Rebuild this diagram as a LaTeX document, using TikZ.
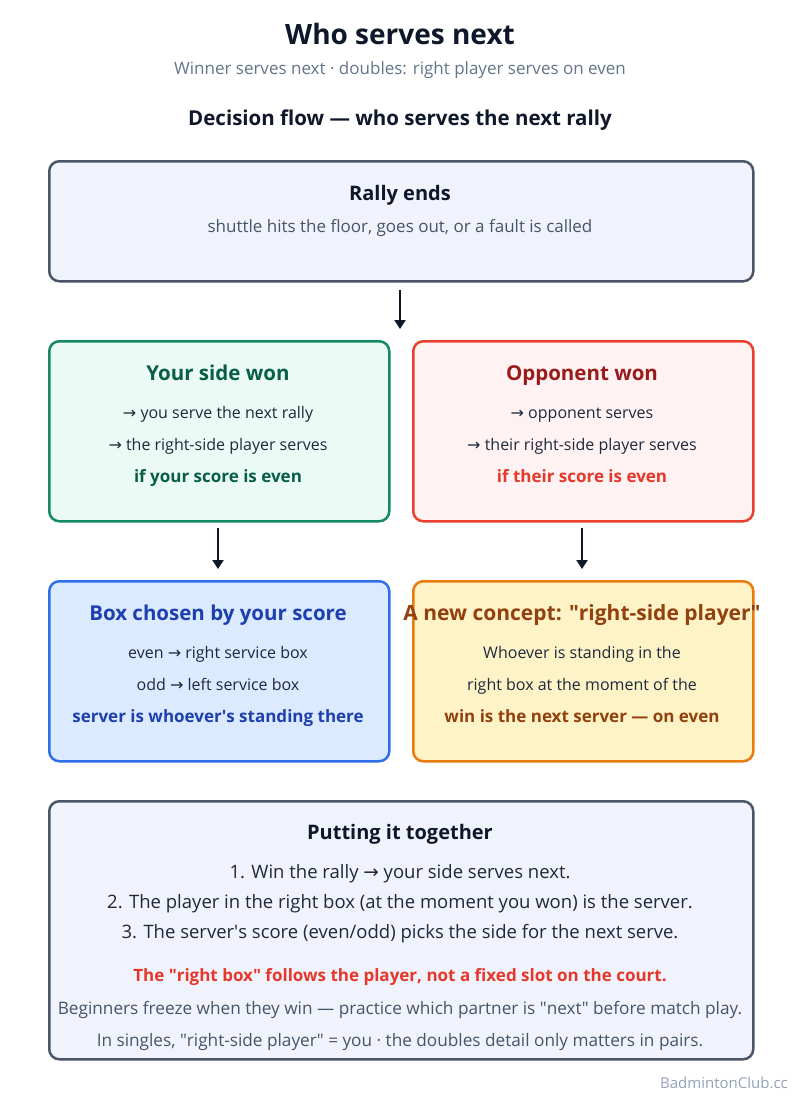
\documentclass[tikz,border=0pt]{standalone}
\usepackage{fontspec}
\setmainfont{Open Sans}
\newfontfamily\oq{Open Sans}
\newfontfamily\symf{DejaVu Sans}
\usetikzlibrary{arrows.meta}
\definecolor{ink}{HTML}{0F172A}
\definecolor{body}{HTML}{1E293B}
\definecolor{muted}{HTML}{64748B}
\definecolor{muted2}{HTML}{475569}
\definecolor{slatefill}{HTML}{F0F3FB}
\definecolor{slatestroke}{HTML}{4A5568}
\definecolor{gfill}{HTML}{ECFAF5}
\definecolor{gstroke}{HTML}{138A64}
\definecolor{gtext}{HTML}{065F46}
\definecolor{rfill}{HTML}{FEF2F2}
\definecolor{rstroke}{HTML}{EA4030}
\definecolor{rtitle}{HTML}{991B1B}
\definecolor{rtext}{HTML}{E5372A}
\definecolor{bfill}{HTML}{DBEAFE}
\definecolor{bstroke}{HTML}{2F6FE8}
\definecolor{btext}{HTML}{1E40AF}
\definecolor{ofill}{HTML}{FEF3C7}
\definecolor{ostroke}{HTML}{EA7A0C}
\definecolor{otext}{HTML}{92400E}
\definecolor{brand}{HTML}{94A3B8}
\newcommand{\ar}{{\symf\char"2192}}
\newcommand{\dq}{{\oq\char"22\relax}}
\newcommand{\sq}{{\oq\char"27\relax}}
\newcommand{\fs}[1]{\fontsize{#1}{#1}\selectfont}
\begin{document}
\begin{tikzpicture}[x=1pt,y=-1pt,
  card/.style={draw=#1stroke, fill=#1fill, line width=2.5pt, rounded corners=10pt, inner sep=0pt, anchor=north west},
  txt/.style={anchor=base, inner sep=0pt, font=\fs{16}, text=body},
  bold/.style={anchor=base, inner sep=0pt, font=\fs{17}\bfseries},
  hd/.style={anchor=base, inner sep=0pt, font=\fs{20.5}\bfseries},
  conn/.style={draw=ink, line width=2pt, -{Triangle[length=9pt,width=11pt]}}]
\useasboundingbox[fill=white] (0,0) rectangle (800,1100);
% titles
\node[anchor=base, inner sep=0pt, font=\fs{28}\bfseries, text=ink] (title) at (400,44) {Who serves next};
\node[txt, font=\fs{17}, text=muted] (sub) at (400,74) {Winner serves next · doubles: right player serves on even};
\node[hd, text=ink] (flow) at (400,125) {Decision flow — who serves the next rally};
% boxes
\node[card=slate, minimum width=704pt, minimum height=120pt] (rally) at (48,160) {};
\node[card=g, minimum width=340pt, minimum height=180pt] (won) at (48,340) {};
\node[card=r, minimum width=340pt, minimum height=180pt] (lost) at (412,340) {};
\node[card=b, minimum width=340pt, minimum height=180pt] (boxsel) at (48,580) {};
\node[card=o, minimum width=340pt, minimum height=180pt] (concept) at (412,580) {};
\node[card=slate, minimum width=704pt, minimum height=258pt] (sum) at (48,800) {};
% connectors
\coordinate (a1) at (400,290); \coordinate (a2) at (400,329);
\draw[conn] (a1) -- (a2);
\coordinate (b1) at (218,528); \coordinate (b2) at (218,569);
\draw[conn] (b1) -- (b2);
\coordinate (c1) at (582,528); \coordinate (c2) at (582,569);
\draw[conn] (c1) -- (c2);
% rally
\node[hd, font=\fs{20}\bfseries, text=ink] (t1) at (400,200) {Rally ends};
\node[txt, font=\fs{17}, text=muted2] (t2) at (400,232) {shuttle hits the floor, goes out, or a fault is called};
% won
\node[hd, text=gtext] (w1) at (218,380) {Your side won};
\node[txt] (w2) at (218,418) {\ar{} you serve the next rally};
\node[txt] (w3) at (218,450) {\ar{} the right-side player serves};
\node[bold, text=gtext] (w4) at (218,482) {if your score is even};
% lost
\node[hd, text=rtitle] (l1) at (582,380) {Opponent won};
\node[txt] (l2) at (582,418) {\ar{} opponent serves};
\node[txt] (l3) at (582,450) {\ar{} their right-side player serves};
\node[bold, text=rtext] (l4) at (582,482) {if their score is even};
% box chosen
\node[hd, text=btext] (s1) at (218,620) {Box chosen by your score};
\node[txt] (s2) at (218,658) {even \ar{} right service box};
\node[txt] (s3) at (218,690) {odd \ar{} left service box};
\node[bold, text=btext] (s4) at (218,722) {server is whoever\sq s standing there};
% concept
\node[hd, font=\fs{21}\bfseries, text=otext] (c1t) at (582,620) {A new concept: \dq right-side player\dq};
\node[txt] (c2t) at (582,658) {Whoever is standing in the};
\node[txt] (c3t) at (582,690) {right box at the moment of the};
\node[bold, text=otext] (c4t) at (582,722) {win is the next server — on even};
% summary
\node[hd, font=\fs{20}\bfseries, text=ink] (p1) at (400,839) {Putting it together};
\node[txt, font=\fs{18.5}] (p2) at (400,878) {1. Win the rally \ar{} your side serves next.};
\node[txt, font=\fs{18.5}] (p3) at (400,908) {2. The player in the right box (at the moment you won) is the server.};
\node[txt, font=\fs{18.5}] (p4) at (400,938) {3. The server\sq s score (even/odd) picks the side for the next serve.};
\node[txt, font=\fs{17}\bfseries, text=rtext] (p5) at (400,981) {The \dq right box\dq{} follows the player, not a fixed slot on the court.};
\node[txt, font=\fs{17.2}, text=muted2] (p6) at (400,1014) {Beginners freeze when they win — practice which partner is \dq next\dq{} before match play.};
\node[txt, font=\fs{17.2}, text=muted2] (p7) at (400,1046) {In singles, \dq right-side player\dq{} = you · the doubles detail only matters in pairs.};
\node[anchor=base east, inner sep=0pt, font=\fs{15}, text=brand] (brand) at (788,1088) {BadmintonClub.cc};
\end{tikzpicture}
\end{document}
